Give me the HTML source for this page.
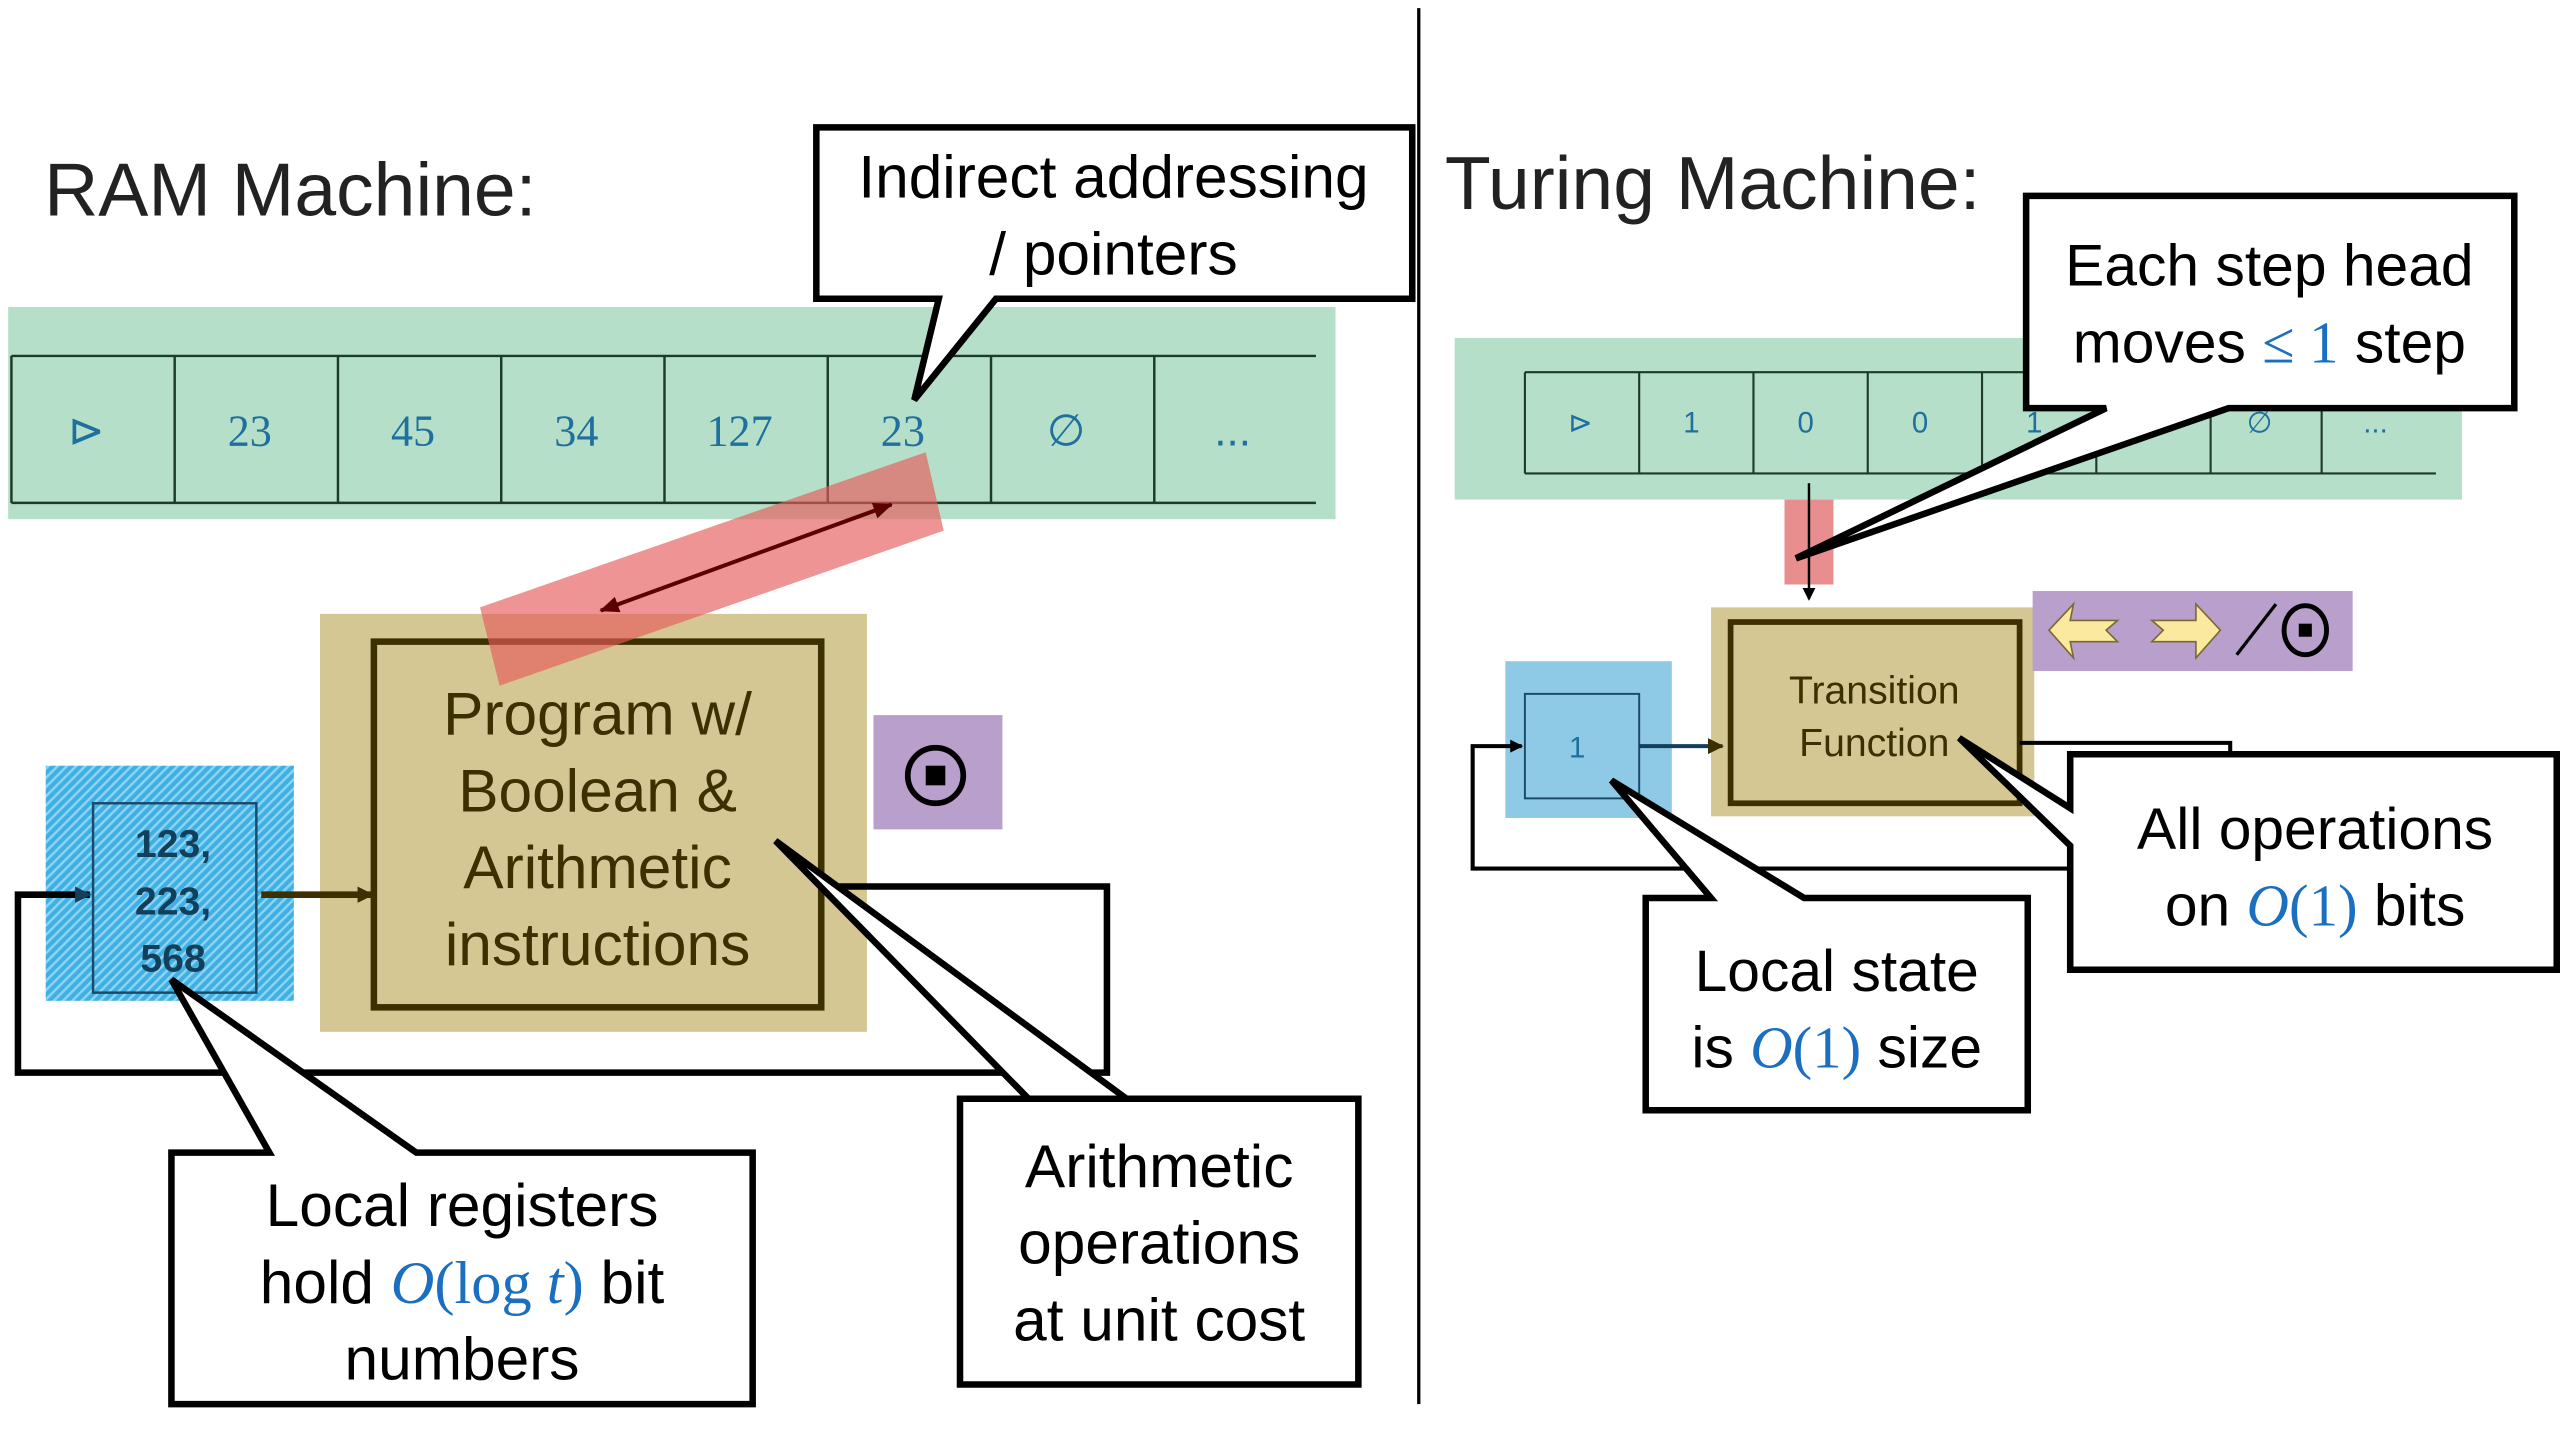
<!DOCTYPE html>
<html><head><meta charset="utf-8"><style>
html,body{margin:0;padding:0;background:#fff;width:2560px;height:1440px;overflow:hidden}
svg{display:block}
text{font-family:"Liberation Sans","DejaVu Sans",sans-serif}
.m{font-family:"Liberation Serif","DejaVu Serif",serif;fill:#1a6fc0;font-style:italic}
.mr{font-family:"Liberation Serif","DejaVu Serif",serif;fill:#1a6fc0}
text.sf{font-family:"Liberation Serif","DejaVu Serif",serif}
</style></head><body>
<svg width="2560" height="1440" viewBox="0 0 1568 882" preserveAspectRatio="none" xmlns="http://www.w3.org/2000/svg">
<defs>
<pattern id="hatch" width="4" height="4" patternUnits="userSpaceOnUse" patternTransform="rotate(45)">
<rect width="4" height="4" fill="#3fb0e4"/><rect width="1.5" height="4" fill="#8fd3f2"/>
</pattern>
<marker id="ah" markerWidth="8" markerHeight="8" refX="7" refY="4" orient="auto" markerUnits="userSpaceOnUse"><path d="M0,0 L8,4 L0,8 z" fill="#000"/></marker>
<marker id="ahd" markerWidth="10" markerHeight="10" refX="9" refY="5" orient="auto" markerUnits="userSpaceOnUse"><path d="M0,0 L10,5 L0,10 z" fill="#3d3000"/></marker>
<marker id="ahb" markerWidth="10" markerHeight="10" refX="9" refY="5" orient="auto" markerUnits="userSpaceOnUse"><path d="M0,0 L10,5 L0,10 z" fill="#123f5a"/></marker>
<marker id="ahr" markerWidth="12" markerHeight="10" refX="11" refY="5" orient="auto-start-reverse" markerUnits="userSpaceOnUse"><path d="M0,0 L12,5 L0,10 z" fill="#5a0000"/></marker>
</defs>

<line x1="869" y1="5" x2="869" y2="860" stroke="#000" stroke-width="2"/>

<!-- LEFT -->
<text x="27" y="132" font-size="46" fill="#222">RAM Machine:</text>
<rect x="5" y="188" width="813" height="130" fill="#b5dfc8"/>
<g stroke="#1d3a2a" stroke-width="1.5">
<line x1="7" y1="218" x2="806" y2="218"/><line x1="7" y1="308" x2="806" y2="308"/>
<line x1="7" y1="218" x2="7" y2="308"/><line x1="107" y1="218" x2="107" y2="308"/><line x1="207" y1="218" x2="207" y2="308"/><line x1="307" y1="218" x2="307" y2="308"/><line x1="407" y1="218" x2="407" y2="308"/><line x1="507" y1="218" x2="507" y2="308"/><line x1="607" y1="218" x2="607" y2="308"/><line x1="707" y1="218" x2="707" y2="308"/>
</g>
<g font-size="27" fill="#1f6f9f" text-anchor="middle">
<text x="53" y="273">⊳</text><text class="sf" x="153" y="273">23</text><text class="sf" x="253" y="273">45</text><text class="sf" x="353" y="273">34</text><text class="sf" x="453" y="273">127</text><text class="sf" x="553" y="273">23</text><text x="653" y="273">∅</text><text x="755" y="273">...</text>
</g>

<rect x="196" y="376" width="335" height="256" fill="#d4c794"/>
<rect x="229" y="393" width="274" height="224" fill="none" stroke="#3d3000" stroke-width="4"/>
<g font-size="37" fill="#3d3000" text-anchor="middle">
<text x="366" y="450">Program w/</text><text x="366" y="497">Boolean &amp;</text><text x="366" y="544">Arithmetic</text><text x="366" y="591">instructions</text>
</g>
<polygon points="294,372 567,277 578,325 306,420" fill="#e65a5a" opacity="0.65"/>
<line x1="368" y1="374" x2="546" y2="309" stroke="#5a0000" stroke-width="2.5" marker-start="url(#ahr)" marker-end="url(#ahr)"/>

<rect x="535" y="438" width="79" height="70" fill="#b9a0cc"/>
<circle cx="573" cy="475" r="17" fill="none" stroke="#000" stroke-width="3.5"/>
<rect x="567" y="469" width="12" height="12" fill="#000"/>

<rect x="28" y="469" width="152" height="144" fill="url(#hatch)"/>
<rect x="57" y="492" width="100" height="116" fill="none" stroke="#1a4a6a" stroke-width="1.5"/>
<g font-size="24" font-weight="bold" fill="#123f5a" text-anchor="middle">
<text x="106" y="525">123,</text><text x="106" y="560">223,</text><text x="106" y="595">568</text>
</g>
<line x1="160" y1="548" x2="228" y2="548" stroke="#3d3000" stroke-width="4" marker-end="url(#ahd)"/>
<polyline points="505,543 678,543 678,657 11,657 11,548 55,548" fill="none" stroke="#000" stroke-width="4" marker-end="url(#ahb)"/>

<g stroke="#000" stroke-width="4" fill="#fff">
<path d="M500,78 H865 V183 H610 L560,245 L575,183 H500 Z"/>
<path d="M588,673 H690 L475,515 L630,673 H832 V848 H588 Z"/>
<path d="M105,706 H165 L105,600 L255,706 H461 V860 H105 Z"/>
</g>
<g font-size="37" fill="#000" text-anchor="middle">
<text x="682" y="121">Indirect addressing</text><text x="682" y="168">/ pointers</text>
<text x="710" y="727">Arithmetic</text><text x="710" y="774">operations</text><text x="710" y="821">at unit cost</text>
<text x="283" y="751">Local registers</text>
<text x="283" y="798">hold <tspan class="m">O</tspan><tspan class="mr">(log </tspan><tspan class="m">t</tspan><tspan class="mr">)</tspan> bit</text>
<text x="283" y="845">numbers</text>
</g>

<!-- RIGHT -->
<text x="885" y="128" font-size="46" fill="#222">Turing Machine:</text>
<rect x="891" y="207" width="617" height="99" fill="#b5dfc8"/>
<g stroke="#1d3a2a" stroke-width="1.3">
<line x1="934" y1="228" x2="1492" y2="228"/><line x1="934" y1="290" x2="1492" y2="290"/>
<line x1="934" y1="228" x2="934" y2="290"/><line x1="1004" y1="228" x2="1004" y2="290"/><line x1="1074" y1="228" x2="1074" y2="290"/><line x1="1144" y1="228" x2="1144" y2="290"/><line x1="1214" y1="228" x2="1214" y2="290"/><line x1="1284" y1="228" x2="1284" y2="290"/><line x1="1354" y1="228" x2="1354" y2="290"/><line x1="1422" y1="228" x2="1422" y2="290"/>
</g>
<g font-size="18" fill="#1f6f9f" text-anchor="middle">
<text x="968" y="265">⊳</text><text x="1036" y="265">1</text><text x="1106" y="265">0</text><text x="1176" y="265">0</text><text x="1246" y="265">1</text><text x="1384" y="265">∅</text><text x="1455" y="265">...</text>
</g>
<rect x="1093" y="306" width="30" height="52" fill="#e88e8e"/>
<line x1="1108" y1="296" x2="1108" y2="367" stroke="#000" stroke-width="1.5" marker-end="url(#ah)"/>

<rect x="1048" y="372" width="198" height="128" fill="#d4c794"/>
<rect x="1060" y="381" width="177" height="111" fill="none" stroke="#3d3000" stroke-width="3.5"/>
<g font-size="24" fill="#3d3000" text-anchor="middle"><text x="1148" y="431">Transition</text><text x="1148" y="463">Function</text></g>

<rect x="1245" y="362" width="196" height="49" fill="#b9a0cc"/>
<path d="M1255,386 L1270,370 L1268,380 L1297,380 L1290,386 L1297,393 L1268,393 L1270,403 Z" fill="#fbe9a0" stroke="#7a6a30" stroke-width="1"/>
<path d="M1360,386 L1345,370 L1345,380 L1318,380 L1325,386 L1318,393 L1345,393 L1345,403 Z" fill="#fbe9a0" stroke="#7a6a30" stroke-width="1"/>
<line x1="1370" y1="401" x2="1394" y2="370" stroke="#000" stroke-width="2"/>
<ellipse cx="1412" cy="386" rx="13" ry="15" fill="none" stroke="#000" stroke-width="3"/>
<rect x="1408" y="382" width="8" height="8" fill="#000"/>

<rect x="922" y="405" width="102" height="96" fill="#8ec9e6"/>
<rect x="934" y="425" width="70" height="64" fill="none" stroke="#1a4a6a" stroke-width="1.2"/>
<text x="966" y="464" font-size="18" fill="#1f6f9f" text-anchor="middle">1</text>
<line x1="1004" y1="457" x2="1055" y2="457" stroke="#123f5a" stroke-width="2.5" marker-end="url(#ahd)"/>
<polyline points="1237,455 1366,455 1366,532 902,532 902,457 932,457" fill="none" stroke="#000" stroke-width="2.5" marker-end="url(#ah)"/>

<g stroke="#000" stroke-width="4" fill="#fff">
<path d="M1241,120 H1540 V250 H1365 L1100,342 L1290,250 H1241 Z"/>
<path d="M1268,462 H1566 V594 H1268 V518 L1200,452 L1268,495 Z"/>
<path d="M1008,550 H1048 L987,478 L1105,550 H1242 V680 H1008 Z"/>
</g>
<g font-size="36" fill="#000" text-anchor="middle">
<text x="1390" y="175">Each step head</text>
<text x="1390" y="222">moves <tspan class="mr">≤ 1</tspan> step</text>
<text x="1418" y="520">All operations</text>
<text x="1418" y="567">on <tspan class="m">O</tspan><tspan class="mr">(1)</tspan> bits</text>
<text x="1125" y="607">Local state</text>
<text x="1125" y="654">is <tspan class="m">O</tspan><tspan class="mr">(1)</tspan> size</text>
</g>
</svg>
</body></html>
